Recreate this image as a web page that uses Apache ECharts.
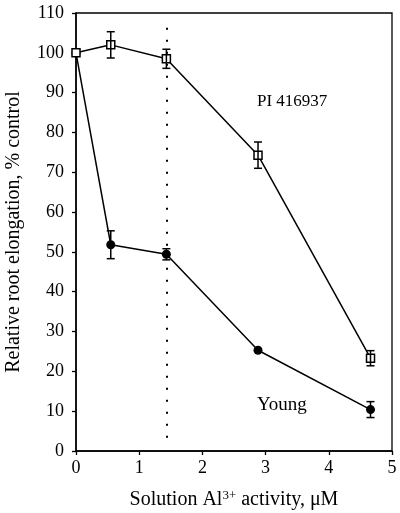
<!DOCTYPE html>
<html><head><meta charset="utf-8">
<script src="https://cdn.jsdelivr.net/npm/echarts@6/dist/echarts.min.js"></script>
<style>html,body{margin:0;padding:0;background:#fff}#c{width:400px;height:513px}</style>
</head><body><div id="c"></div>
<script>
const xValues = [0, 0.55, 1.43, 2.88, 4.66];
const piValues = [100, 102, 98.5, 74.3, 23.3];
const piErrors = [0, 3.3, 2.4, 3.3, 1.9];
const youngValues = [100, 51.8, 49.4, 25.3, 10.4];
const youngErrors = [0, 3.5, 1.4, 0, 2];
const thresholdX = 1.44;
const thresholdRange = [3.3, 107.5];
const xTicks = [0, 1, 2, 3, 4, 5];
const yTicks = [0, 10, 20, 30, 40, 50, 60, 70, 80, 90, 100, 110];

const font = 'Liberation Serif';
function pts(vals){ return xValues.map((x,i)=>[x, vals[i]]); }
function errData(vals, errs){ return xValues.map((x,i)=>[x, vals[i]-errs[i], vals[i]+errs[i]]).filter((d,i)=>errs[i]>0); }
function errRender(params, api){
  const x = api.value(0);
  const lo = api.coord([x, api.value(1)]);
  const hi = api.coord([x, api.value(2)]);
  const w = 4;
  const st = {stroke:'#000', lineWidth:1.5};
  return {type:'group', children:[
    {type:'line', shape:{x1:lo[0],y1:lo[1],x2:hi[0],y2:hi[1]}, style:st},
    {type:'line', shape:{x1:lo[0]-w,y1:lo[1],x2:lo[0]+w,y2:lo[1]}, style:st},
    {type:'line', shape:{x1:hi[0]-w,y1:hi[1],x2:hi[0]+w,y2:hi[1]}, style:st}
  ]};
}
const chart = echarts.init(document.getElementById('c'));
chart.setOption({
  animation:false,
  grid:{left:76, right:8, top:13, bottom:62, show:true, borderColor:'#000', borderWidth:1.3, containLabel:false, outerBoundsMode:'none'},
  xAxis:{type:'value', min:0, max:5, interval:1,
    axisLine:{show:true, lineStyle:{color:'#000', width:1.5}},
    axisTick:{show:true, length:4, lineStyle:{color:'#000', width:1.3}},
    splitLine:{show:false},
    axisLabel:{color:'#000', fontFamily:font, fontSize:18, margin:8, formatter:v=>xTicks.includes(v)?String(v):''},
    name:'Solution Al{sup|3+} activity, μM', nameLocation:'middle', nameGap:38,
    nameTextStyle:{color:'#000', fontFamily:font, fontSize:20, rich:{sup:{fontFamily:font, fontSize:13, color:'#000', verticalAlign:'top', padding:[0,0,9,0]}}}
  },
  yAxis:{type:'value', min:0, max:110, interval:10,
    axisLine:{show:true, lineStyle:{color:'#000', width:1.5}},
    axisTick:{show:true, length:4, lineStyle:{color:'#000', width:1.3}},
    splitLine:{show:false},
    axisLabel:{color:'#000', fontFamily:font, fontSize:18, margin:12, formatter:v=>yTicks.includes(v)?String(v):''},
    name:'Relative root elongation, % control', nameLocation:'middle', nameGap:52,
    nameTextStyle:{color:'#000', fontFamily:font, fontSize:20}
  },
  series:[
    {type:'line', data:[[thresholdX, thresholdRange[0]],[thresholdX, thresholdRange[1]]], symbol:'none',
      lineStyle:{color:'#000', width:2, type:[2,10]}, silent:true},
    {type:'line', data:pts(youngValues), symbol:'circle', symbolSize:9,
      itemStyle:{color:'#000'}, lineStyle:{color:'#000', width:1.5}, z:3},
    {type:'line', data:pts(piValues), symbol:'rect', symbolSize:8,
      itemStyle:{color:'#fff', borderColor:'#000', borderWidth:1.5}, lineStyle:{color:'#000', width:1.5}, z:4},
    {type:'custom', data:errData(piValues, piErrors), renderItem:errRender, z:5},
    {type:'custom', data:errData(youngValues, youngErrors), renderItem:errRender, z:5}
  ],
  graphic:[
    {type:'text', left:257, top:93, style:{text:'PI 416937', font:'17px "Liberation Serif"', fill:'#000'}},
    {type:'text', left:257, top:396, style:{text:'Young', font:'19px "Liberation Serif"', fill:'#000'}}
  ]
});
</script></body></html>
